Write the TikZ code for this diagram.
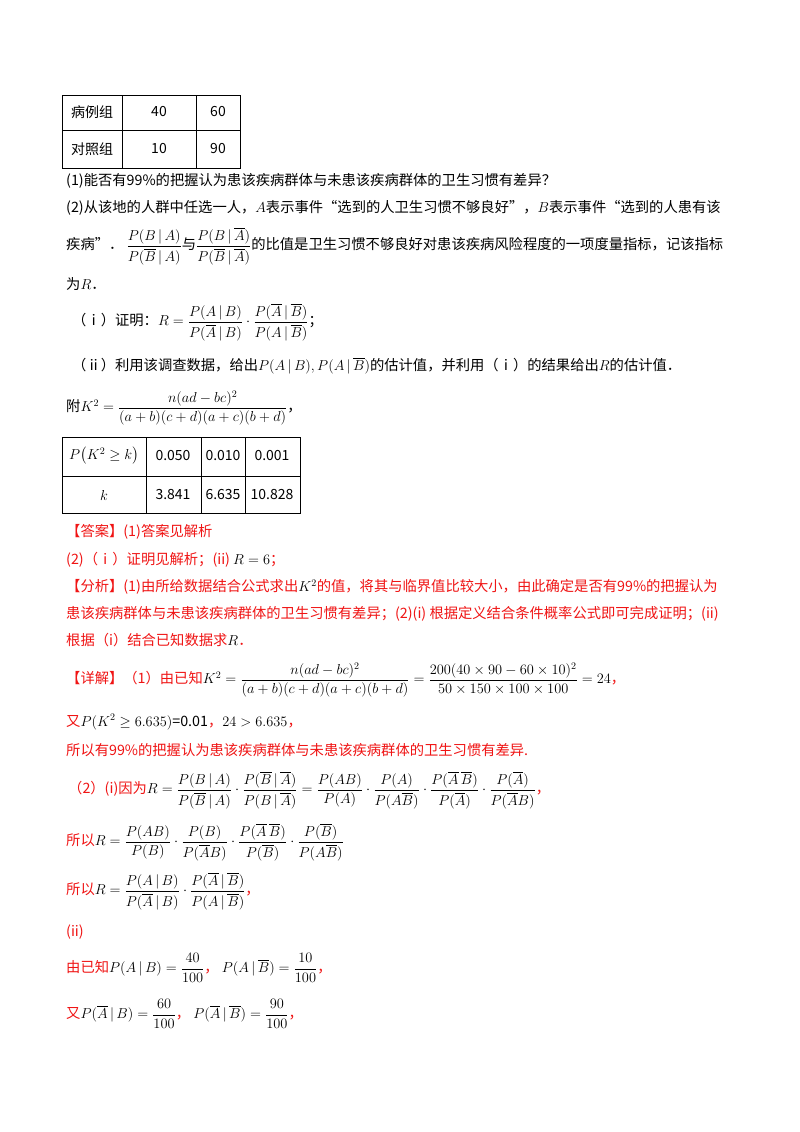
\documentclass[tikz,border=0pt]{standalone}
\usepackage{amsmath}
\usepackage{fontspec}
\setmainfont{Noto Sans CJK SC}
\definecolor{ans}{RGB}{240,20,20}
\tikzset{ln/.style={anchor=west,inner sep=0pt,font=\fontsize{14.3}{17}\selectfont},
 cell/.style={inner sep=0pt,font=\fontsize{14}{16}\selectfont},
 red/.style={text=ans}}
\newcommand{\ob}[1]{\overline{#1}}
\begin{document}
\begin{tikzpicture}[x=1pt,y=-1pt]
\useasboundingbox[fill=white] (0,0) rectangle (800,1132);
% table 1
\draw[line width=1pt] (62,95) rectangle (240,168);
\draw[line width=1pt] (62,130) -- (240,130) (122,95) -- (122,168) (196,95) -- (196,168);
\node[cell] (t11) at (92,112) {病例组};
\node[cell] (t12) at (159,112) {40};
\node[cell] (t13) at (218,112) {60};
\node[cell] (t21) at (92,149) {对照组};
\node[cell] (t22) at (159,149) {10};
\node[cell] (t23) at (218,149) {90};
\node[ln] (l1) at (66,181) {(1)能否有99\%的把握认为患该疾病群体与未患该疾病群体的卫生习惯有差异？};
\node[ln] (l2) at (66,208) {(2)从该地的人群中任选一人，$A$表示事件“选到的人卫生习惯不够良好”，$B$表示事件“选到的人患有该};
\node[ln] (l3) at (66,246) {疾病”． $\dfrac{P(B\,|\,A)}{P(\ob{B}\,|\,A)}$与$\dfrac{P(B\,|\,\ob{A})}{P(\ob{B}\,|\,\ob{A})}$的比值是卫生习惯不够良好对患该疾病风险程度的一项度量指标，记该指标};
\node[ln] (l4) at (66,284) {为$R$．};
\node[ln] (l5) at (72,322) {（ⅰ）证明：$R=\dfrac{P(A\,|\,B)}{P(\ob{A}\,|\,B)}\cdot\dfrac{P(\ob{A}\,|\,\ob{B})}{P(A\,|\,\ob{B})}$；};
\node[ln] (l6) at (72,366) {（ⅱ）利用该调查数据，给出$P(A\,|\,B),P(A\,|\,\ob{B})$的估计值，并利用（ⅰ）的结果给出$R$的估计值．};
\node[ln] (l7) at (66,408) {附$K^2=\dfrac{n(ad-bc)^2}{(a+b)(c+d)(a+c)(b+d)}$，};
% table 2
\draw[line width=1pt] (62,437) rectangle (300,513);
\draw[line width=1pt] (62,476) -- (300,476) (146,437) -- (146,513) (201,437) -- (201,513) (245,437) -- (245,513);
\node[cell] (s11) at (104,456) {$P\bigl(K^2\ge k\bigr)$};
\node[cell] (s12) at (173,456) {0.050};
\node[cell] (s13) at (223,456) {0.010};
\node[cell] (s14) at (272,456) {0.001};
\node[cell] (s21) at (104,495) {$k$};
\node[cell] (s22) at (173,495) {3.841};
\node[cell] (s23) at (223,495) {6.635};
\node[cell] (s24) at (272,495) {10.828};
\node[ln,red] (a1) at (66,532) {【答案】(1)答案见解析};
\node[ln,red] (a2) at (66,560) {(2)（ⅰ）证明见解析；(ii) \textcolor{black}{$R=6$}；};
\node[ln,red] (a3) at (66,587) {【分析】(1)由所给数据结合公式求出\textcolor{black}{$K^2$}的值，将其与临界值比较大小，由此确定是否有99\%的把握认为};
\node[ln,red] (a4) at (66,614) {患该疾病群体与未患该疾病群体的卫生习惯有差异；(2)(i) 根据定义结合条件概率公式即可完成证明；(ii)};
\node[ln,red] (a5) at (66,640) {根据（i）结合已知数据求\textcolor{black}{$R$}．};
\node[ln,red] (a6) at (66,680) {【详解】（1）由已知\textcolor{black}{$K^2=\dfrac{n(ad-bc)^2}{(a+b)(c+d)(a+c)(b+d)}=\dfrac{200(40\times90-60\times10)^2}{50\times150\times100\times100}=24$}，};
\node[ln,red] (a7) at (66,722) {又\textcolor{black}{$P(K^2\ge6.635)$=0.01}，\textcolor{black}{$24>6.635$}，};
\node[ln,red] (a8) at (66,750) {所以有99\%的把握认为患该疾病群体与未患该疾病群体的卫生习惯有差异.};
\node[ln,red] (a9) at (68,790) {（2）(i)因为\textcolor{black}{$R=\dfrac{P(B\,|\,A)}{P(\ob{B}\,|\,A)}\cdot\dfrac{P(\ob{B}\,|\,\ob{A})}{P(B\,|\,\ob{A})}=\dfrac{P(AB)}{P(A)}\cdot\dfrac{P(A)}{P(A\ob{B})}\cdot\dfrac{P(\ob{A}\,\ob{B})}{P(\ob{A})}\cdot\dfrac{P(\ob{A})}{P(\ob{A}B)}$}，};
\node[ln,red] (a10) at (66,842) {所以\textcolor{black}{$R=\dfrac{P(AB)}{P(B)}\cdot\dfrac{P(B)}{P(\ob{A}B)}\cdot\dfrac{P(\ob{A}\,\ob{B})}{P(\ob{B})}\cdot\dfrac{P(\ob{B})}{P(A\ob{B})}$}};
\node[ln,red] (a11) at (66,891) {所以\textcolor{black}{$R=\dfrac{P(A\,|\,B)}{P(\ob{A}\,|\,B)}\cdot\dfrac{P(\ob{A}\,|\,\ob{B})}{P(A\,|\,\ob{B})}$}，};
\node[ln,red] (a12) at (66,932) {(ii)};
\node[ln,red] (a13) at (66,968) {由已知\textcolor{black}{$P(A\,|\,B)=\dfrac{40}{100}$}，\ \textcolor{black}{$P(A\,|\,\ob{B})=\dfrac{10}{100}$}，};
\node[ln,red] (a14) at (66,1014) {又\textcolor{black}{$P(\ob{A}\,|\,B)=\dfrac{60}{100}$}，\ \textcolor{black}{$P(\ob{A}\,|\,\ob{B})=\dfrac{90}{100}$}，};
\end{tikzpicture}
\end{document}
